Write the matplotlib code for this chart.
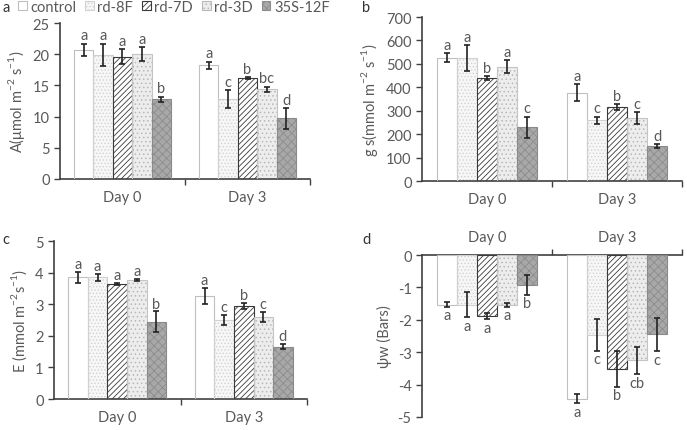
import numpy as np
import matplotlib
matplotlib.use("Agg")
import matplotlib.pyplot as plt
from matplotlib.patches import Patch

plt.rcParams['font.family'] = ['Lato', 'DejaVu Sans']
plt.rcParams['mathtext.fontset'] = 'custom'
plt.rcParams['mathtext.rm'] = 'Lato'
plt.rcParams['axes.unicode_minus'] = False
plt.rcParams['hatch.linewidth'] = 0.6

# data
days = ['Day 0', 'Day 3']
lines = ['control', 'rd-8F', 'rd-7D', 'rd-3D', '35S-12F']

A_mean = [[20.7, 19.9, 19.6, 20.0, 12.8], [18.2, 12.8, 16.2, 14.4, 9.7]]
A_err = [[1.0, 1.8, 1.2, 1.1, 0.4], [0.6, 1.5, 0.1, 0.4, 1.7]]
A_let = [['a', 'a', 'a', 'a', 'b'], ['a', 'c', 'b', 'bc', 'd']]

gs_mean = [[527, 525, 440, 488, 230], [377, 260, 315, 270, 148]]
gs_err = [[20, 55, 8, 28, 45], [35, 15, 12, 25, 8]]
gs_let = [['a', 'a', 'b', 'a', 'c'], ['a', 'c', 'b', 'c', 'd']]

E_mean = [[3.85, 3.85, 3.65, 3.77, 2.45], [3.25, 2.5, 2.95, 2.6, 1.65]]
E_err = [[0.18, 0.12, 0.03, 0.03, 0.32], [0.25, 0.15, 0.1, 0.15, 0.08]]
E_let = [['a', 'a', 'a', 'a', 'b'], ['a', 'c', 'b', 'c', 'd']]

psi_mean = [[-1.53, -1.53, -1.88, -1.53, -0.92], [-4.43, -2.47, -3.52, -3.25, -2.45]]
psi_err = [[0.07, 0.38, 0.10, 0.06, 0.30], [0.15, 0.48, 0.55, 0.42, 0.52]]
psi_let = [['a', 'a', 'a', 'a', 'b'], ['a', 'c', 'b', 'cb', 'c']]

# bar styles: face, hatch, hatch colour, outline
styles = [
    ('white', '', '#bfbfbf', '#bfbfbf'),
    ('#f7f7f7', '.....', '#d2d2d2', '#d0d0d0'),
    ('white', '//////', '#3a3a3a', '#3a3a3a'),
    ('#ededed', '....', '#b8b8b8', '#c4c4c4'),
    ('#a8a8a8', 'xxxx', '#8c8c8c', '#8a8a8a'),
]

txt_col = '#595959'
ax_col = '#404040'
fs = 10.5
w = 0.155

fig = plt.figure(figsize=(6.87, 4.31), dpi=100)


def panel(rect, mean, err, lets, ylim, yticks, ylabel, neg=False, off=0.0):
    ax = fig.add_axes(rect)
    x = np.arange(len(days))
    mean = np.array(mean)
    err = np.array(err)
    for i in range(len(lines)):
        fc, h, hc, ec = styles[i]
        xs = x + (i - 2) * w
        ax.bar(xs, mean[:, i], w, color=fc, hatch=h, edgecolor=hc, linewidth=0, zorder=2)
        ax.bar(xs, mean[:, i], w, fill=False, edgecolor=ec, linewidth=0.8, zorder=3)
        ax.errorbar(xs, mean[:, i], yerr=err[:, i], fmt='none', ecolor='#222222',
                    elinewidth=1.2, capsize=2, capthick=1.2, zorder=4)
        for j in range(len(days)):
            if neg:
                ax.text(xs[j], mean[j, i] - err[j, i] - off, lets[j][i], ha='center', va='top',
                        fontsize=fs, color=txt_col)
            else:
                ax.text(xs[j], mean[j, i] + err[j, i] + off, lets[j][i], ha='center', va='bottom',
                        fontsize=fs, color=txt_col)
    ax.set_xlim(-0.5, 1.5)
    ax.set_ylim(*ylim)
    ax.set_yticks(yticks)
    ax.set_xticks(x)
    ax.set_xticklabels(days)
    ax.set_xticks([0.5, 1.5], minor=True)
    ax.tick_params(axis='x', which='major', length=0, labelsize=fs, labelcolor=txt_col, pad=8)
    ax.tick_params(axis='x', which='minor', length=4, width=1, color=ax_col)
    ax.tick_params(axis='y', length=4, width=1, color=ax_col, labelsize=fs, labelcolor=txt_col)
    ax.spines['right'].set_visible(False)
    for s in ['left', 'bottom', 'top']:
        ax.spines[s].set_color(ax_col)
        ax.spines[s].set_linewidth(1.2)
    if neg:
        ax.spines['bottom'].set_visible(False)
        ax.xaxis.tick_top()
        ax.tick_params(axis='x', which='major', length=0, pad=8)
    else:
        ax.spines['top'].set_visible(False)
    ax.set_ylabel(ylabel, fontsize=fs, color=txt_col, labelpad=4)
    return ax


axa = panel([0.0873, 0.5824, 0.3640, 0.3619], A_mean, A_err, A_let, (0, 25), range(0, 26, 5),
            r'A($\mathregular{\mu}$mol m$^{\mathregular{-2}}$ s$^{\mathregular{-1}}$)', off=0.2)
axb = panel([0.6143, 0.5777, 0.3785, 0.3805], gs_mean, gs_err, gs_let, (0, 700), range(0, 701, 100),
            r'g s(mmol m$^{\mathregular{-2}}$ s$^{\mathregular{-1}}$)', off=5)
axc = panel([0.0786, 0.0719, 0.3683, 0.3666], E_mean, E_err, E_let, (0, 5), range(0, 6),
            r'E (mmol m$^{\mathregular{-2}}$s$^{\mathregular{-1}}$)', off=0.03)
axd = panel([0.6143, 0.0302, 0.3785, 0.3758], psi_mean, psi_err, psi_let, (-5, 0), range(-5, 1),
            'ψw (Bars)', neg=True, off=0.05)

handles = [Patch(facecolor=s[0], hatch=s[1], edgecolor=s[2], linewidth=0.8) for s in styles]
fig.legend(handles, lines, loc='center left', bbox_to_anchor=(0.026, 0.982), ncol=5, frameon=False,
           fontsize=10.5, labelcolor=txt_col, handlelength=0.6, handleheight=0.6,
           handletextpad=0.25, columnspacing=0.6, borderaxespad=0, borderpad=0)

for lab, (px, py) in zip('abcd', [(0.003, 0.982), (0.527, 0.982), (0.004, 0.444), (0.527, 0.444)]):
    fig.text(px, py, lab, fontsize=10.5, color='#333333', va='center')

fig.savefig('out.png', dpi=100)
